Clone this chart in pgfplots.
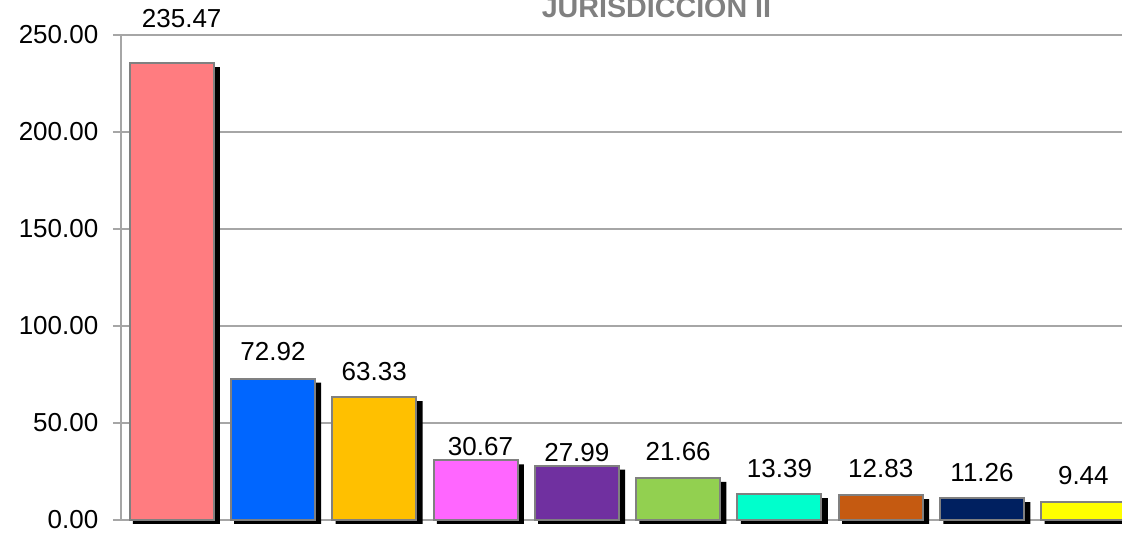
\documentclass[border=0pt]{standalone}
\usepackage{pgfplots}
\pgfplotsset{compat=1.18}
\usepackage{pgfplotstable}
\usepackage{fontspec}
\setmainfont{Liberation Sans}
\definecolor{cA}{HTML}{FF7C80}
\definecolor{cB}{HTML}{0066FF}
\definecolor{cC}{HTML}{FFC000}
\definecolor{cD}{HTML}{FF66FF}
\definecolor{cE}{HTML}{7030A0}
\definecolor{cF}{HTML}{92D050}
\definecolor{cG}{HTML}{00FFCC}
\definecolor{cH}{HTML}{C55A11}
\definecolor{cI}{HTML}{002060}
\definecolor{cJ}{HTML}{FFFF00}
\definecolor{gridc}{HTML}{A6A6A6}
\definecolor{barline}{HTML}{808080}
\definecolor{titlec}{HTML}{808080}
% x, value, label x, label baseline y
\pgfplotstableread{
x y lx ly
0 235.47 0.099 254.1
1 72.92 1 81.96
2 63.33 2 72.16
3 30.67 3.049 32.99
4 27.99 4 29.90
5 21.66 5 30.41
6 13.39 6 22.16
7 12.83 7 21.65
8 11.26 8 19.59
9 9.44 9 18.04
}\data
\begin{document}
\begin{tikzpicture}
\begin{axis}[
  at={(0,0)}, anchor=south west,
  scale only axis,
  width=759.75pt, height=363.75pt,
  xmin=-0.5, xmax=9.5, ymin=0, ymax=250,
  clip=false,
  axis lines*=left,
  axis line style={draw=gridc, line width=1.1pt, -},
  xtick=\empty,
  ytick={0,50,...,250},
  ymajorgrids,
  grid style={draw=gridc, line width=1.1pt},
  tick style={draw=gridc, line width=1.1pt},
  tick align=outside,
  major tick length=6pt,
  yticklabel style={font=\fontsize{19.5}{22}\selectfont, xshift=-7.5pt},
  yticklabel={\pgfmathprintnumber[fixed,fixed zerofill,precision=2]{\tick}},
  /pgf/number format/assume math mode=true,
]
% shadows
\addplot[ybar, bar width=65.25pt, bar shift=3.6pt, fill=black, draw=none, yshift=-3pt]
  table[x=x, y=y] {\data};
% bars
\addplot[ybar, bar width=63pt, fill=cA, draw=barline, line width=1.5pt] coordinates {(0,235.47)};
\addplot[ybar, bar width=63pt, fill=cB, draw=barline, line width=1.5pt] coordinates {(1,72.92)};
\addplot[ybar, bar width=63pt, fill=cC, draw=barline, line width=1.5pt] coordinates {(2,63.33)};
\addplot[ybar, bar width=63pt, fill=cD, draw=barline, line width=1.5pt] coordinates {(3,30.67)};
\addplot[ybar, bar width=63pt, fill=cE, draw=barline, line width=1.5pt] coordinates {(4,27.99)};
\addplot[ybar, bar width=63pt, fill=cF, draw=barline, line width=1.5pt] coordinates {(5,21.66)};
\addplot[ybar, bar width=63pt, fill=cG, draw=barline, line width=1.5pt] coordinates {(6,13.39)};
\addplot[ybar, bar width=63pt, fill=cH, draw=barline, line width=1.5pt] coordinates {(7,12.83)};
\addplot[ybar, bar width=63pt, fill=cI, draw=barline, line width=1.5pt] coordinates {(8,11.26)};
\addplot[ybar, bar width=63pt, fill=cJ, draw=barline, line width=1.5pt] coordinates {(9,9.44)};
% value labels
\addplot[draw=none, mark=none,
  point meta=explicit,
  nodes near coords={\pgfmathprintnumber[fixed,fixed zerofill,precision=2]{\pgfplotspointmeta}},
  nodes near coords style={anchor=base, inner sep=0pt, font=\fontsize{19.5}{22}\selectfont, text=black},
] table[x=lx, y=ly, meta=y] {\data};
\node[anchor=base, font=\fontsize{21.5}{24}\selectfont\bfseries, text=titlec]
  at (rel axis cs:0.5286,1.0371) {JURISDICCION II};
\end{axis}
\pgfresetboundingbox
\useasboundingbox (-90.75pt,-10.5pt) rectangle (750.75pt,390pt);
\end{tikzpicture}
\end{document}
